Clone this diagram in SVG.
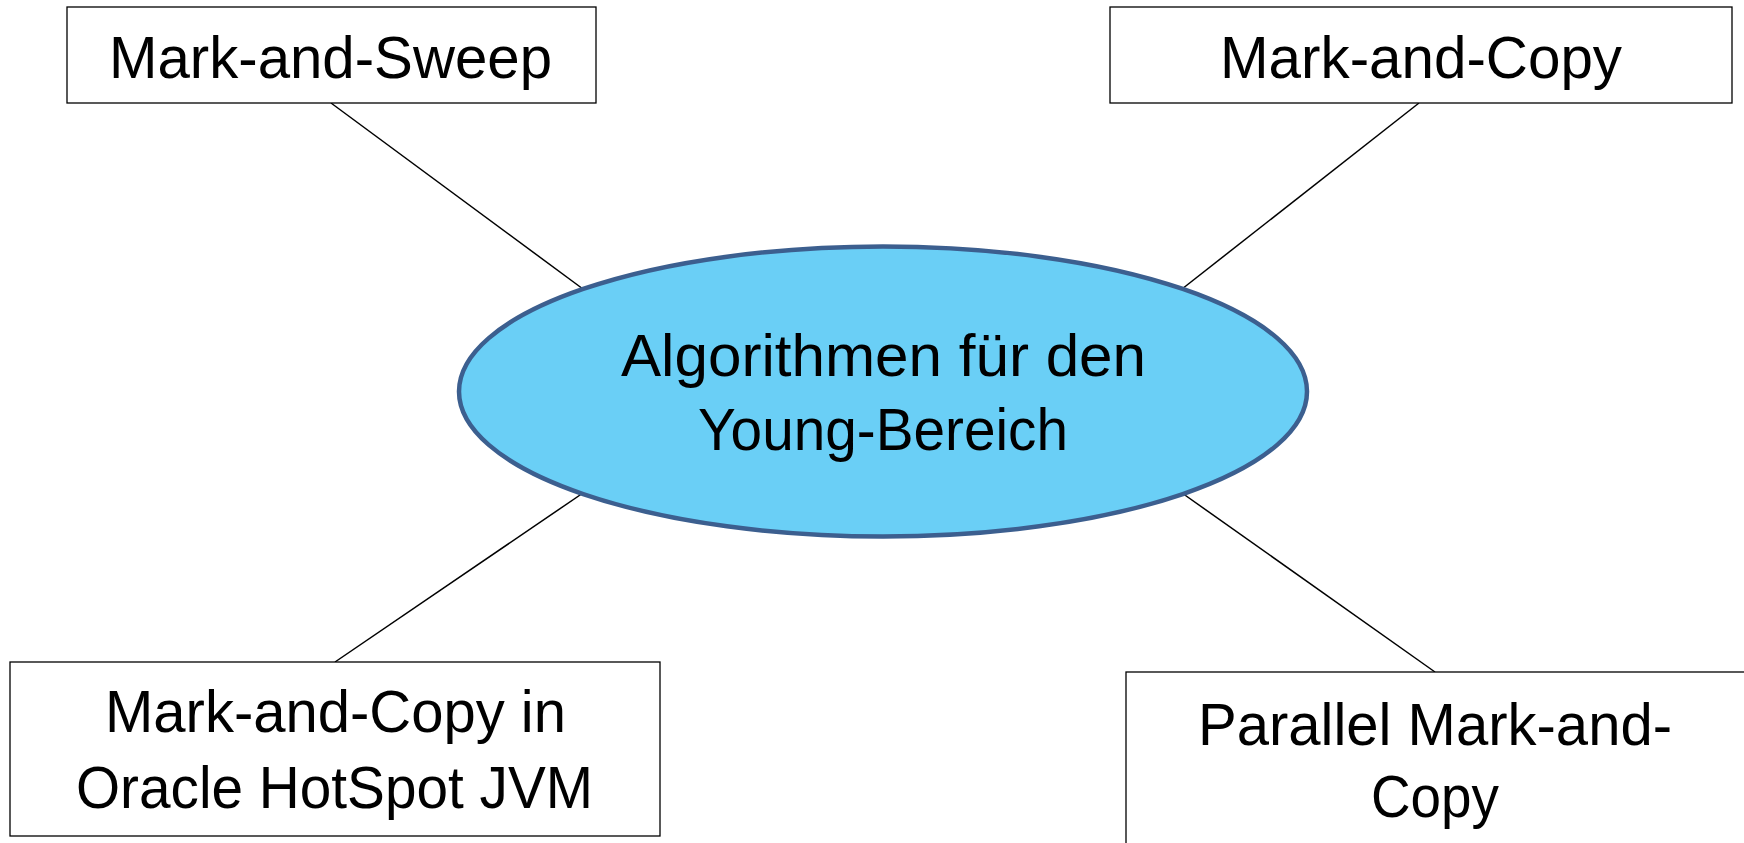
<svg xmlns="http://www.w3.org/2000/svg" width="1744" height="843" viewBox="0 0 1744 843">
<style>
.box{fill:#ffffff;stroke:#000000;stroke-width:1.3}
.t{font-family:"Liberation Sans",Arial,sans-serif;font-size:60px;fill:#000000}
.conn{stroke:#000000;stroke-width:1.5;fill:none}
.ell{fill:#6acff6;stroke:#3c5f8f;stroke-width:4.5}
</style>
<rect width="1744" height="843" fill="#ffffff"/>
<g id="connectors">
<line class="conn" x1="331" y1="103" x2="583" y2="289"/>
<line class="conn" x1="1419" y1="103" x2="1182" y2="289"/>
<line class="conn" x1="583" y1="493" x2="335" y2="662"/>
<line class="conn" x1="1182" y1="493" x2="1435" y2="672"/>
</g>
<g id="center">
<ellipse class="ell" cx="883" cy="391.5" rx="424" ry="145"/>
<text class="t" x="621" y="376" textLength="525" lengthAdjust="spacingAndGlyphs">Algorithmen für den</text>
<text class="t" x="698" y="450" textLength="370" lengthAdjust="spacingAndGlyphs">Young-Bereich</text>
</g>
<g id="mark-and-sweep">
<rect class="box" x="67" y="7" width="529" height="96"/>
<text class="t" x="109" y="78" textLength="443" lengthAdjust="spacingAndGlyphs">Mark-and-Sweep</text>
</g>
<g id="mark-and-copy">
<rect class="box" x="1110" y="7" width="622" height="96"/>
<text class="t" x="1220" y="78" textLength="402" lengthAdjust="spacingAndGlyphs">Mark-and-Copy</text>
</g>
<g id="hotspot">
<rect class="box" x="10" y="662" width="650" height="174"/>
<text class="t" x="105" y="732" textLength="461" lengthAdjust="spacingAndGlyphs">Mark-and-Copy in</text>
<text class="t" x="76" y="808" textLength="517" lengthAdjust="spacingAndGlyphs">Oracle HotSpot JVM</text>
</g>
<g id="parallel">
<rect class="box" x="1126" y="672" width="640" height="220"/>
<text class="t" x="1198" y="745" textLength="474" lengthAdjust="spacingAndGlyphs">Parallel Mark-and-</text>
<text class="t" x="1371" y="817" textLength="128" lengthAdjust="spacingAndGlyphs">Copy</text>
</g>
</svg>
